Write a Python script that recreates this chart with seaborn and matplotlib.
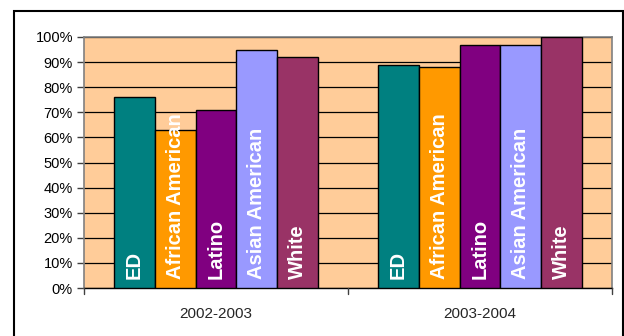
import matplotlib
matplotlib.use("Agg")
import matplotlib.pyplot as plt
import seaborn as sns
import pandas as pd
from matplotlib.patches import Rectangle
from matplotlib.ticker import PercentFormatter, MultipleLocator

years = ["2002-2003", "2003-2004"]
groups = ["ED", "African American", "Latino", "Asian American", "White"]
values_2002 = [76, 63, 71, 95, 92]
values_2003 = [89, 88, 97, 97, 100]
colors = ["#008080", "#FF9900", "#800080", "#9999FF", "#993366"]

df = pd.DataFrame({
    "year": [years[0]] * len(groups) + [years[1]] * len(groups),
    "group": groups * 2,
    "pct": values_2002 + values_2003,
})

sns.set_style("white")
plt.rcParams["font.family"] = ["Liberation Sans", "DejaVu Sans"]

fig = plt.figure(figsize=(6.24, 3.36), dpi=100)
ax = fig.add_axes([84 / 624, 48 / 336, 528 / 624, 251 / 336])
ax.set_facecolor("#FFCC99")

sns.barplot(data=df, x="year", y="pct", hue="group", hue_order=groups,
            palette=colors, width=0.776, gap=0, edgecolor="black",
            linewidth=1.0, saturation=1, legend=False, ax=ax, zorder=3)

ax.set_ylim(0, 100)
ax.set_xlim(-0.5, 1.5)
ax.yaxis.set_major_locator(MultipleLocator(10))
ax.yaxis.set_major_formatter(PercentFormatter(decimals=0))
ax.grid(axis="y", color="black", linewidth=0.9, zorder=0)
ax.set_axisbelow(True)
ax.set_xlabel("")
ax.set_ylabel("")

for side in ["top", "right", "left"]:
    ax.spines[side].set_color("#808080")
    ax.spines[side].set_linewidth(1.2)
ax.spines["bottom"].set_color("black")
ax.spines["bottom"].set_linewidth(1.0)

ax.tick_params(axis="y", left=True, length=5, width=1, color="#404040",
               labelsize=10.5, pad=3, labelcolor="black")
ax.set_xticks([0, 1])
ax.set_xticklabels(years, fontsize=11)
ax.tick_params(axis="x", bottom=False, pad=10)
# category boundary ticks on the x axis
for xb in [-0.5, 0.5, 1.5]:
    ax.plot([xb, xb], [0, -2.2], color="#404040", linewidth=1,
            clip_on=False, zorder=5)

# white group names inside each bar
bar_patches = [p for p in ax.patches if p.get_height() > 0]
for i, p in enumerate(sorted(bar_patches, key=lambda r: r.get_x())):
    ax.text(p.get_x() + p.get_width() / 2, 3.4, groups[i % len(groups)],
            rotation=90, ha="center", va="bottom", color="white",
            fontsize=14.5, fontweight="bold", zorder=6)

# outer chart border
fig.patches.append(Rectangle((14 / 624, -0.05), 609 / 624, 1.05 - 11 / 336,
                             transform=fig.transFigure, fill=False,
                             edgecolor="black", linewidth=1.5))

fig.savefig("out.png", dpi=100)
